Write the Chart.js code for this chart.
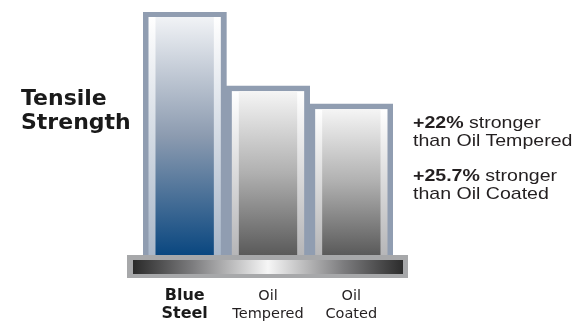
<!DOCTYPE html>
<html><head><meta charset="utf-8">
<script src="https://cdn.jsdelivr.net/npm/chart.js@4.4.1/dist/chart.umd.min.js"></script>
<style>
html,body{margin:0;padding:0;background:#fff;}
#wrap{position:relative;width:578px;height:323px;overflow:hidden;}
canvas{position:absolute;left:0;top:0;}
.title{position:absolute;left:21px;top:86px;font:bold 22px/24px "DejaVu Sans";color:#1a1a1a;}
.note{position:absolute;left:413px;font:17px/18px "Liberation Sans";color:#231f20;transform:scaleX(1.15);transform-origin:0 0;white-space:nowrap;}
.note b{font-weight:bold;}
</style></head><body>
<div id="wrap"><canvas id="c" width="578" height="323"></canvas>
<div class="title" id="title"></div>
<div class="note" id="n1" style="top:114px"></div>
<div class="note" id="n2" style="top:167px"></div>
</div>
<script>
// ---- data ----
const categories = [['Blue', 'Steel'], ['Oil', 'Tempered'], ['Oil', 'Coated']];
const strength = [100, 69.5, 62.1];           // relative tensile strength (bar heights)
const titleLines = ['Tensile', 'Strength'];
const gainValues = ['+22%', '+25.7%'];
const gainTexts = [['stronger', 'than Oil Tempered'], ['stronger', 'than Oil Coated']];

// ---- text ----
document.getElementById('title').innerHTML = titleLines.join('<br>');
['n1', 'n2'].forEach((id, i) => {
  const el = document.getElementById(id);
  el.innerHTML = '<b>' + gainValues[i] + '</b> ' + gainTexts[i][0] + '<br>' + gainTexts[i][1];
});

// ---- styles ----
const FRAME = '#909db1';
const PAL = [
  { rim: '#a9b7c9', fill: [[0, '#f1f3f6'], [0.5, '#8c9bb0'], [1, '#0a4780']] },
  { rim: '#b6b6b8', fill: [[0, '#f5f5f5'], [0.5, '#b0b0b0'], [1, '#5a5a5a']] },
  { rim: '#b6b6b8', fill: [[0, '#f5f5f5'], [0.5, '#b0b0b0'], [1, '#5a5a5a']] }
];

const barArt = {
  id: 'barArt',
  afterDatasetsDraw(chart) {
    const ctx = chart.ctx, ca = chart.chartArea;
    const meta = chart.getDatasetMeta(0);
    ctx.save();
    meta.data.forEach((el, i) => {
      const p = el.getProps(['x', 'y', 'base', 'width'], true);
      const L = p.x - p.width / 2, R = p.x + p.width / 2, T = p.y, B = p.base;
      const pal = PAL[i];
      let g = ctx.createLinearGradient(0, T + 5, 0, B);
      g.addColorStop(0, '#ffffff'); g.addColorStop(1, pal.rim);
      ctx.fillStyle = g;
      ctx.fillRect(L + 5.5, T + 5, R - L - 11, B - T - 5);
      g = ctx.createLinearGradient(0, T + 5, 0, B);
      pal.fill.forEach(([o, c]) => g.addColorStop(o, c));
      ctx.fillStyle = g;
      ctx.fillRect(L + 12.5, T + 5, R - L - 25, B - T - 5);
    });
    // base platform
    const b = ca.bottom, L0 = ca.left - 16, R0 = ca.right + 15;
    ctx.fillStyle = '#a7a8aa';
    ctx.fillRect(L0, b, R0 - L0, 23);
    const g = ctx.createLinearGradient(L0 + 6, 0, R0 - 5, 0);
    g.addColorStop(0, '#2a2a2a');
    g.addColorStop(0.22, '#7c7c7e');
    g.addColorStop(0.5, '#f6f6f6');
    g.addColorStop(0.78, '#7c7c7e');
    g.addColorStop(1, '#2c2c2c');
    ctx.fillStyle = g;
    ctx.fillRect(L0 + 6, b + 5, R0 - L0 - 11, 14);
    ctx.restore();
  }
};

new Chart(document.getElementById('c'), {
  type: 'bar',
  data: {
    labels: categories,
    datasets: [{
      data: strength,
      backgroundColor: FRAME,
      borderWidth: 0,
      categoryPercentage: 1,
      barPercentage: 1
    }]
  },
  options: {
    responsive: false,
    devicePixelRatio: 1,
    animation: false,
    layout: { padding: { left: 143, right: 185, top: 12, bottom: 0 } },
    plugins: { legend: { display: false }, tooltip: { enabled: false } },
    scales: {
      x: {
        offset: true,
        grid: { display: false, drawTicks: false },
        border: { display: false },
        afterFit: (s) => { s.height = 68; },
        ticks: {
          padding: 32,
          maxRotation: 0,
          autoSkip: false,
          color: (c) => c.index === 0 ? '#1a1a1a' : '#231f20',
          font: (c) => c.index === 0
            ? { family: 'DejaVu Sans', size: 16, weight: 'bold', lineHeight: '18px' }
            : { family: 'DejaVu Sans', size: 14.5, weight: 'normal', lineHeight: '18px' }
        }
      },
      y: { display: false, min: 0, max: 100 }
    }
  },
  plugins: [barArt]
});
</script>
</body></html>
